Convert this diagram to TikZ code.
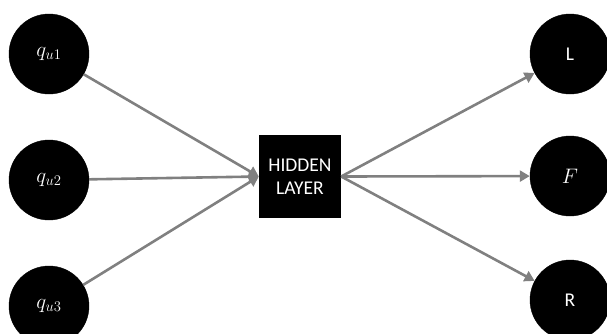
\RequirePackage{fix-cm}
\documentclass[tikz,border=0pt]{standalone}
\usepackage{fontspec}
\setmainfont{Carlito}
\usetikzlibrary{arrows.meta}
\definecolor{arrgray}{RGB}{128,128,128}
\tikzset{
  neuron/.style={circle,fill=black,draw=black,minimum size=80pt,inner sep=0pt,text=white,font=\fontsize{19.5}{23}\selectfont},
  mathtxt/.style={font=\fontsize{21}{24}\selectfont},
  hidbox/.style={rectangle,fill=black,minimum width=82pt,minimum height=83pt,inner sep=0pt,text=white,align=center,font=\fontsize{19.5}{23}\selectfont},
  conn/.style={draw=arrgray,line width=2.6pt,-{Triangle[length=10pt,width=11pt]}}
}
\begin{document}
\begin{tikzpicture}[x=1pt,y=-1pt]
\useasboundingbox (0,0) rectangle (607,333);
\node[neuron,mathtxt] (q1) at (49,54) {$q_{u1}$};
\node[neuron,mathtxt] (q2) at (49,180) {$q_{u2}$};
\node[neuron,mathtxt] (q3) at (49,306) {$q_{u3}$};
\node[hidbox] (h) at (300,176.5) {HIDDEN\\LAYER};
\node[neuron] (L) at (570,54) {L};
\node[neuron,mathtxt] (F) at (570,176) {$F$};
\node[neuron] (R) at (570,300) {R};
\draw[conn] (q1) -- (h.west);
\draw[conn] (q2) -- (h.west);
\draw[conn] (q3) -- (h.west);
\draw[conn] (h.east) -- (L);
\draw[conn] (h.east) -- (F);
\draw[conn] (h.east) -- (R);
\end{tikzpicture}
\end{document}
